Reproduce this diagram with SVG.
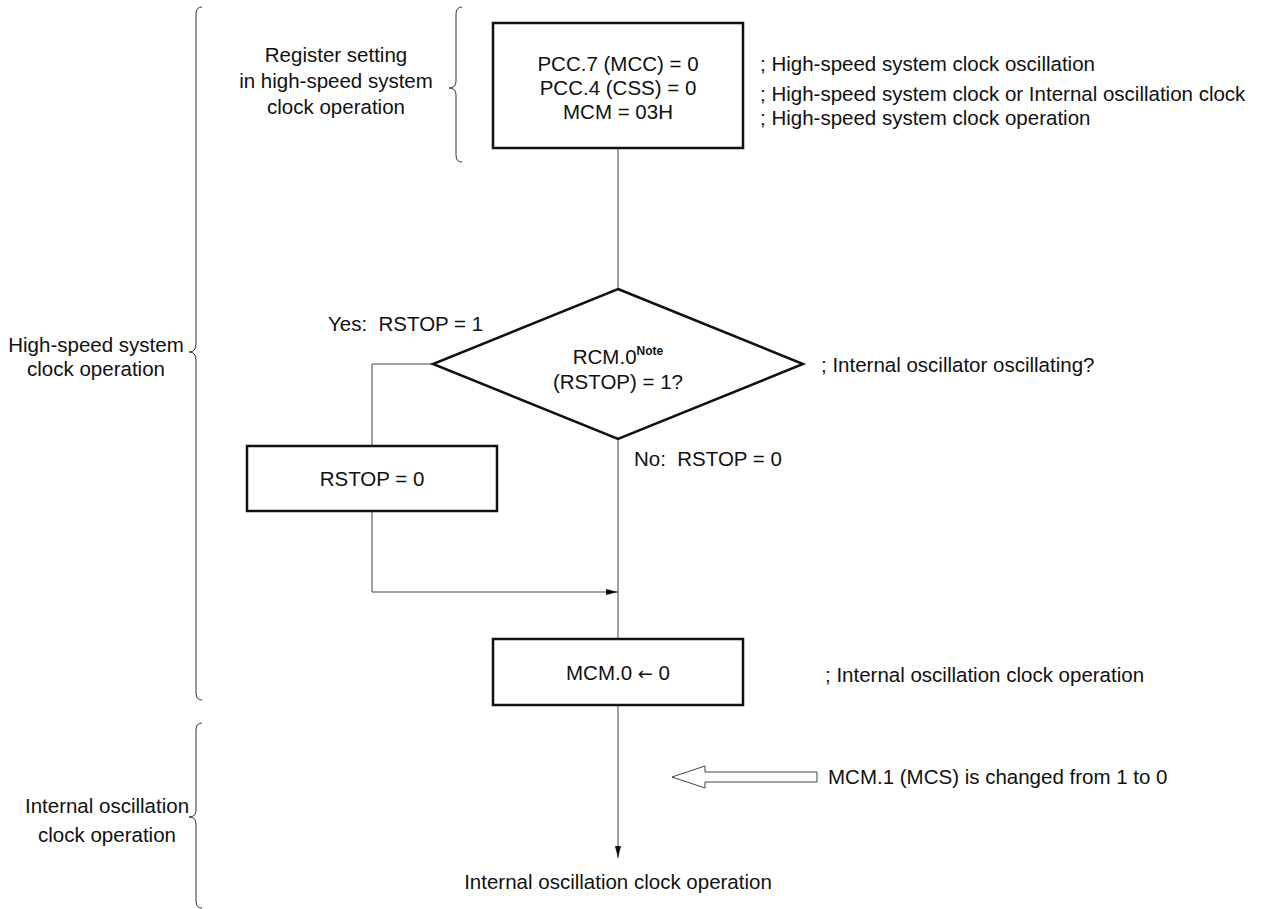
<svg xmlns="http://www.w3.org/2000/svg" width="1277" height="909" viewBox="0 0 1277 909">
<style>
text{font-family:"Liberation Sans",Arial,sans-serif;font-size:20.5px;fill:#111;white-space:pre}
.box{fill:#fff;stroke:#111;stroke-width:2.5}
.ln{fill:none;stroke:#444;stroke-width:1}
.br{fill:none;stroke:#333;stroke-width:1}
.c{text-anchor:middle}
</style>
<defs>
<marker id="ah" viewBox="0 0 12 6" refX="12" refY="3" markerWidth="12" markerHeight="6" markerUnits="userSpaceOnUse" orient="auto">
<path d="M0,0 L12,3 L0,6 Z" fill="#111"/>
</marker>
</defs>
<rect width="1277" height="909" fill="#fff"/>

<g id="braces">
<path class="br" d="M202,7 Q196,7 196,14 L196,344 Q196,352 189,352 Q196,352 196,360 L196,693 Q196,700 202,700"/>
<path class="br" d="M462,7 Q456,7 456,14 L456,81 Q456,88 449,88 Q456,88 456,95 L456,155 Q456,162 462,162"/>
<path class="br" d="M202,723 Q196,723 196,730 L196,810 Q196,817 189,817 Q196,817 196,824 L196,901 Q196,908 202,908"/>
</g>

<g id="labels">
<text class="c" x="96" y="352">High-speed system</text>
<text class="c" x="96" y="376">clock operation</text>
<text class="c" x="336" y="62">Register setting</text>
<text class="c" x="336" y="88">in high-speed system</text>
<text class="c" x="336" y="114">clock operation</text>
<text class="c" x="107" y="813">Internal oscillation</text>
<text class="c" x="107" y="842">clock operation</text>
<text x="760" y="71">; High-speed system clock oscillation</text>
<text x="760" y="101">; High-speed system clock or Internal oscillation clock</text>
<text x="760" y="125">; High-speed system clock operation</text>
<text x="821" y="372">; Internal oscillator oscillating?</text>
<text x="825" y="682">; Internal oscillation clock operation</text>
<text x="828" y="784">MCM.1 (MCS) is changed from 1 to 0</text>
<text x="328" y="331">Yes:  RSTOP = 1</text>
<text x="634" y="466">No:  RSTOP = 0</text>
<text class="c" x="618" y="889">Internal oscillation clock operation</text>
</g>

<g id="connectors">
<line class="ln" x1="618" y1="148" x2="618" y2="289"/>
<polyline class="ln" points="433,364 372,364 372,446"/>
<line class="ln" x1="618" y1="439" x2="618" y2="639"/>
<polyline class="ln" points="372,511 372,592 618,592" marker-end="url(#ah)"/>
<line class="ln" x1="618" y1="705" x2="618" y2="858" marker-end="url(#ah)"/>
<polygon class="ln" stroke="#111" points="672,777 705,766 705,772 817,772 817,782 705,782 705,788"/>
</g>

<g id="node-init">
<rect class="box" x="493" y="23" width="250" height="125"/>
<text class="c" x="618" y="71">PCC.7 (MCC) = 0</text>
<text class="c" x="618" y="95">PCC.4 (CSS) = 0</text>
<text class="c" x="618" y="119">MCM = 03H</text>
</g>

<g id="node-decision">
<polygon class="box" points="618,289 803,364 618,439 433,364"/>
<text class="c" x="618" y="364">RCM.0<tspan dy="-9" font-size="12" font-weight="bold">Note</tspan></text>
<text class="c" x="618" y="389">(RSTOP) = 1?</text>
</g>

<g id="node-rstop">
<rect class="box" x="247" y="446" width="250" height="65"/>
<text class="c" x="372" y="486">RSTOP = 0</text>
</g>

<g id="node-mcm">
<rect class="box" x="493" y="639" width="250" height="66"/>
<text class="c" x="618" y="680">MCM.0 <tspan font-family="'DejaVu Sans',sans-serif" font-size="18">←</tspan> 0</text>
</g>
</svg>
